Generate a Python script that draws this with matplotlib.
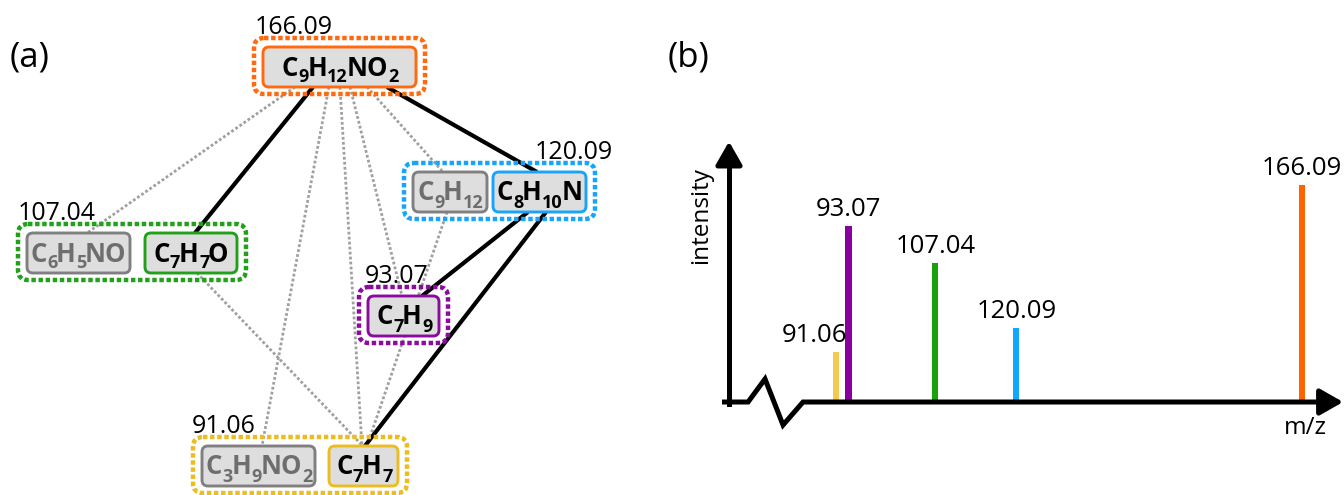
import re
import matplotlib.pyplot as plt
from matplotlib.patches import FancyBboxPatch

plt.rcParams['font.family'] = ['Open Sans', 'DejaVu Sans']

# ---- data ----
# fragmentation groups: mass label, candidate formulas, the one picked in the tree
group_mass = ['166.09', '120.09', '107.04', '93.07', '91.06']
group_formulas = [
    ['C9H12NO2'],
    ['C9H12', 'C8H10N'],
    ['C6H5NO', 'C7H7O'],
    ['C7H9'],
    ['C3H9NO2', 'C7H7'],
]
group_chosen = ['C9H12NO2', 'C8H10N', 'C7H7O', 'C7H9', 'C7H7']

# edges of the fragmentation tree (solid) and other candidate edges (dotted)
tree_edges = [
    ('C9H12NO2', 'C7H7O'),
    ('C9H12NO2', 'C8H10N'),
    ('C8H10N', 'C7H9'),
    ('C8H10N', 'C7H7'),
]
other_edges = [
    ('C9H12NO2', 'C6H5NO'),
    ('C9H12NO2', 'C3H9NO2'),
    ('C9H12NO2', 'C7H7'),
    ('C9H12NO2', 'C7H9'),
    ('C9H12NO2', 'C9H12'),
    ('C9H12', 'C7H7'),
    ('C7H7O', 'C7H7'),
]

# spectrum peaks
peak_mz = [91.06, 93.07, 107.04, 120.09, 166.09]
peak_int = [23, 81, 64, 34, 100]
peak_labels = ['91.06', '93.07', '107.04', '120.09', '166.09']

# ---- layout / style (pixels) ----
group_colors = ['#ff6a10', '#18a4f8', '#22a01a', '#8c0aa0', '#ebbd20']
peak_colors = ['#f5c850', '#8800a0', '#1aa00a', '#10a8ff', '#ff6400']
peak_label_dx = [-22, 0, 0, 0, 0]

# inner boxes: x0, y0 (top), width
box_pos = {
    'C9H12NO2': (263, 47, 153),
    'C9H12': (413, 172, 74),
    'C8H10N': (493, 172, 93),
    'C6H5NO': (27, 233, 103),
    'C7H7O': (145, 233, 92),
    'C7H9': (368, 296, 71),
    'C3H9NO2': (202, 446, 113),
    'C7H7': (329, 446, 69),
}
box_h = 40
group_pad = 9
label_x = [255, 535, 18, 365, 192]

# edge anchors as fraction of the source bottom / target top edge
anchors = {
    ('C9H12NO2', 'C7H7O'): (0.327, 0.543),
    ('C9H12NO2', 'C8H10N'): (0.81, 0.473),
    ('C8H10N', 'C7H9'): (0.376, 0.76),
    ('C8H10N', 'C7H7'): (0.57, 0.52),
    ('C9H12NO2', 'C6H5NO'): (0.209, 0.583),
    ('C9H12NO2', 'C3H9NO2'): (0.431, 0.531),
    ('C9H12NO2', 'C7H7'): (0.503, 0.478),
    ('C9H12NO2', 'C7H9'): (0.569, 0.479),
    ('C9H12NO2', 'C9H12'): (0.68, 0.405),
    ('C9H12', 'C7H7'): (0.46, 0.55),
    ('C7H7O', 'C7H7'): (0.565, 0.49),
}

fig = plt.figure(figsize=(13.44, 4.95), dpi=100)
ax = fig.add_axes([0, 0, 1, 1])
ax.set_xlim(0, 1344)
ax.set_ylim(495, 0)
ax.axis('off')
renderer = fig.canvas.get_renderer()

ax.text(10, 66, '(a)', fontsize=25, va='baseline')
ax.text(668, 66, '(b)', fontsize=25, va='baseline')


def edge_xy(src, dst):
    fs, fd = anchors[(src, dst)]
    x0, y0, w = box_pos[src]
    x1, y1, w1 = box_pos[dst]
    return [x0 + fs * w, x1 + fd * w1], [y0 + box_h, y1]


def draw_formula(cx, base_y, formula, color):
    # element symbols normal size, counts as lowered subscripts
    texts, widths = [], []
    for p in re.findall(r'[A-Za-z]+|\d+', formula):
        sub = p.isdigit()
        t = ax.text(0, base_y + (7 if sub else 0), p, fontsize=13 if sub else 18.5,
                    fontweight='bold', color=color, va='baseline', ha='left', zorder=5)
        texts.append(t)
        widths.append(t.get_window_extent(renderer).width - (1.5 if sub else -0.5))
    x = cx - sum(widths) / 2
    for t, w in zip(texts, widths):
        t.set_x(x)
        x += w


for src, dst in other_edges:
    xs, ys = edge_xy(src, dst)
    ax.plot(xs, ys, color='#a0a0a0', lw=2.0, ls=(0, (1, 0.8)), zorder=1)
for src, dst in tree_edges:
    xs, ys = edge_xy(src, dst)
    ax.plot(xs, ys, color='black', lw=3, solid_capstyle='butt', zorder=2)

for i, forms in enumerate(group_formulas):
    col = group_colors[i]
    xs0 = [box_pos[f][0] for f in forms]
    xs1 = [box_pos[f][0] + box_pos[f][2] for f in forms]
    ys0 = [box_pos[f][1] for f in forms]
    gx0 = min(xs0) - group_pad
    gx1 = max(xs1) + group_pad
    gy0 = min(ys0) - group_pad
    gy1 = min(ys0) + box_h + group_pad - 2
    ax.add_patch(FancyBboxPatch((gx0, gy0), gx1 - gx0, gy1 - gy0,
                                boxstyle='round,pad=0,rounding_size=10',
                                fill=False, ec=col, lw=3.2, ls=(0, (1, 0.6)),
                                zorder=3))
    ax.text(label_x[i], gy0 - 4, group_mass[i], fontsize=18, va='baseline', zorder=5)
    for f in forms:
        x0, y0, w = box_pos[f]
        chosen = f == group_chosen[i]
        ec = col if chosen else '#808080'
        tc = 'black' if chosen else '#6e6e6e'
        ax.add_patch(FancyBboxPatch((x0, y0), w, box_h,
                                    boxstyle='round,pad=0,rounding_size=6',
                                    fc='#dedede', ec=ec, lw=2.1, zorder=4))
        draw_formula(x0 + w / 2, y0 + box_h / 2 + 8.5, f, tc)

# ---- panel (b): spectrum ----
axb = fig.add_axes([700 / 1344, 55 / 495, 644 / 1344, 310 / 495])
axb.set_xlim(69.16, 172.85)
axb.set_ylim(-17.5, 125.3)
axb.axis('off')

axb.bar(peak_mz, peak_int, width=1.0, color=peak_colors, zorder=2)
for m, h, lab, dx in zip(peak_mz, peak_int, peak_labels, peak_label_dx):
    axb.annotate(lab, (m, h), xytext=(dx * 0.72, 3), textcoords='offset points',
                 ha='center', va='bottom', fontsize=18.5)

axb.plot([72.7, 76.9, 79.63, 82.53, 85.75, 170.5], [0, 0, 10.6, -10.6, 0, 0],
         color='black', lw=3.6, solid_joinstyle='miter', solid_capstyle='butt', zorder=3)
axb.plot([73.83, 73.83], [-1, 115], color='black', lw=3.6, zorder=3)
arrow = dict(arrowstyle='-|>,head_length=0.7,head_width=0.4', color='black',
             lw=3.6, mutation_scale=20, shrinkA=0, shrinkB=0)
axb.annotate('', xy=(172.7, 0), xytext=(169, 0), arrowprops=arrow, zorder=3)
axb.annotate('', xy=(73.83, 120), xytext=(73.83, 112), arrowprops=arrow, zorder=3)

axb.text(69.4, 85.7, 'intensity', rotation=90, ha='center', va='center', fontsize=17.5)
axb.text(166.6, -12, 'm/z', ha='center', va='center', fontsize=17.5)

fig.savefig('out.png', dpi=100)
